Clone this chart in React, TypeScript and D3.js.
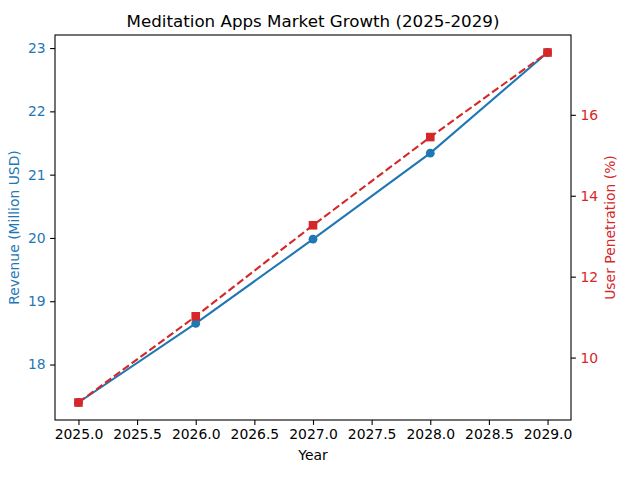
import React, { useEffect, useRef } from "react";
import * as d3 from "d3";

// chart data
const years = [2025, 2026, 2027, 2028, 2029];
const revenue = [17.4, 18.65, 19.98, 21.34, 22.93];
const penetration = [8.89, 11.02, 13.27, 15.45, 17.54];
const xTicks = [2025, 2025.5, 2026, 2026.5, 2027, 2027.5, 2028, 2028.5, 2029];
const leftTicks = [18, 19, 20, 21, 22, 23];
const rightTicks = [10, 12, 14, 16];

const BLUE = "#1f77b4";
const RED = "#d62728";
const FONT = "'DejaVu Sans', sans-serif";

/**
 * pad a domain by 5% on both sides, like matplotlib does
 */
const padded = (vals: number[]): [number, number] => {
  const lo = d3.min(vals) as number;
  const hi = d3.max(vals) as number;
  const m = (hi - lo) * 0.05;
  return [lo - m, hi + m];
};

export default function App() {
  const svgRef = useRef<SVGSVGElement>(null);

  useEffect(() => {
    const root = d3.select(svgRef.current);
    root.selectChildren().remove();

    const W = 639,
      H = 477;
    const margin = { top: 35, right: 68, bottom: 57, left: 55 };
    const width = W - margin.left - margin.right,
      height = H - margin.top - margin.bottom;

    const svg = root
      .append("g")
      .attr("transform", `translate(${margin.left},${margin.top})`);

    const x = d3.scaleLinear().domain(padded(years)).range([0, width]);
    const yL = d3.scaleLinear().domain(padded(revenue)).range([height, 0]);
    const yR = d3.scaleLinear().domain(padded(penetration)).range([height, 0]);

    // axes
    const styleAxis = (g: any, color: string) => {
      g.select(".domain").remove();
      g.selectAll(".tick line").attr("stroke", "#000").attr("stroke-width", 1.1);
      g.selectAll(".tick text")
        .attr("fill", color)
        .style("font-family", FONT)
        .style("font-size", "13.9px");
    };

    svg
      .append("g")
      .attr("transform", `translate(0,${height})`)
      .call(
        d3
          .axisBottom(x)
          .tickValues(xTicks)
          .tickFormat(d3.format(".1f"))
          .tickSize(4.9)
          .tickPadding(4.5)
      )
      .call((g) => styleAxis(g, "#000"));

    svg
      .append("g")
      .call(
        d3
          .axisLeft(yL)
          .tickValues(leftTicks)
          .tickFormat(d3.format("d"))
          .tickSize(4.9)
          .tickPadding(4.5)
      )
      .call((g) => styleAxis(g, BLUE));

    svg
      .append("g")
      .attr("transform", `translate(${width},0)`)
      .call(
        d3
          .axisRight(yR)
          .tickValues(rightTicks)
          .tickFormat(d3.format("d"))
          .tickSize(4.9)
          .tickPadding(4.5)
      )
      .call((g) => styleAxis(g, RED));

    // revenue line + circles
    const lineL = d3
      .line<number>()
      .x((d, i) => x(years[i]))
      .y((d) => yL(d));
    svg
      .append("path")
      .datum(revenue)
      .attr("fill", "none")
      .attr("stroke", BLUE)
      .attr("stroke-width", 2.08)
      .attr("d", lineL);
    svg
      .append("g")
      .selectAll("circle")
      .data(revenue)
      .enter()
      .append("circle")
      .attr("cx", (d, i) => x(years[i]))
      .attr("cy", (d) => yL(d))
      .attr("r", 4.4)
      .attr("fill", BLUE);

    // penetration dashed line + squares
    const lineR = d3
      .line<number>()
      .x((d, i) => x(years[i]))
      .y((d) => yR(d));
    svg
      .append("path")
      .datum(penetration)
      .attr("fill", "none")
      .attr("stroke", RED)
      .attr("stroke-width", 2.08)
      .attr("stroke-dasharray", "7.7,3.3")
      .attr("d", lineR);
    const s = 8.6;
    svg
      .append("g")
      .selectAll("rect")
      .data(penetration)
      .enter()
      .append("rect")
      .attr("x", (d, i) => x(years[i]) - s / 2)
      .attr("y", (d) => yR(d) - s / 2)
      .attr("width", s)
      .attr("height", s)
      .attr("fill", RED);

    // frame
    svg
      .append("rect")
      .attr("width", width)
      .attr("height", height)
      .attr("fill", "none")
      .attr("stroke", "#000")
      .attr("stroke-width", 1.1);

    // texts
    root
      .append("text")
      .attr("x", margin.left + width / 2)
      .attr("y", 27)
      .attr("text-anchor", "middle")
      .style("font-family", FONT)
      .style("font-size", "16.7px")
      .text("Meditation Apps Market Growth (2025-2029)");

    root
      .append("text")
      .attr("x", margin.left + width / 2)
      .attr("y", 460)
      .attr("text-anchor", "middle")
      .style("font-family", FONT)
      .style("font-size", "13.9px")
      .text("Year");

    root
      .append("text")
      .attr(
        "transform",
        `translate(19,${margin.top + height / 2}) rotate(-90)`
      )
      .attr("text-anchor", "middle")
      .attr("fill", BLUE)
      .style("font-family", FONT)
      .style("font-size", "13.9px")
      .text("Revenue (Million USD)");

    root
      .append("text")
      .attr(
        "transform",
        `translate(615,${margin.top + height / 2}) rotate(-90)`
      )
      .attr("text-anchor", "middle")
      .attr("fill", RED)
      .style("font-family", FONT)
      .style("font-size", "13.9px")
      .text("User Penetration (%)");
  }, []);

  return (
    <svg
      ref={svgRef}
      width={639}
      height={477}
      style={{ position: "absolute", left: 0, top: 0, background: "#fff" }}
    ></svg>
  );
}
